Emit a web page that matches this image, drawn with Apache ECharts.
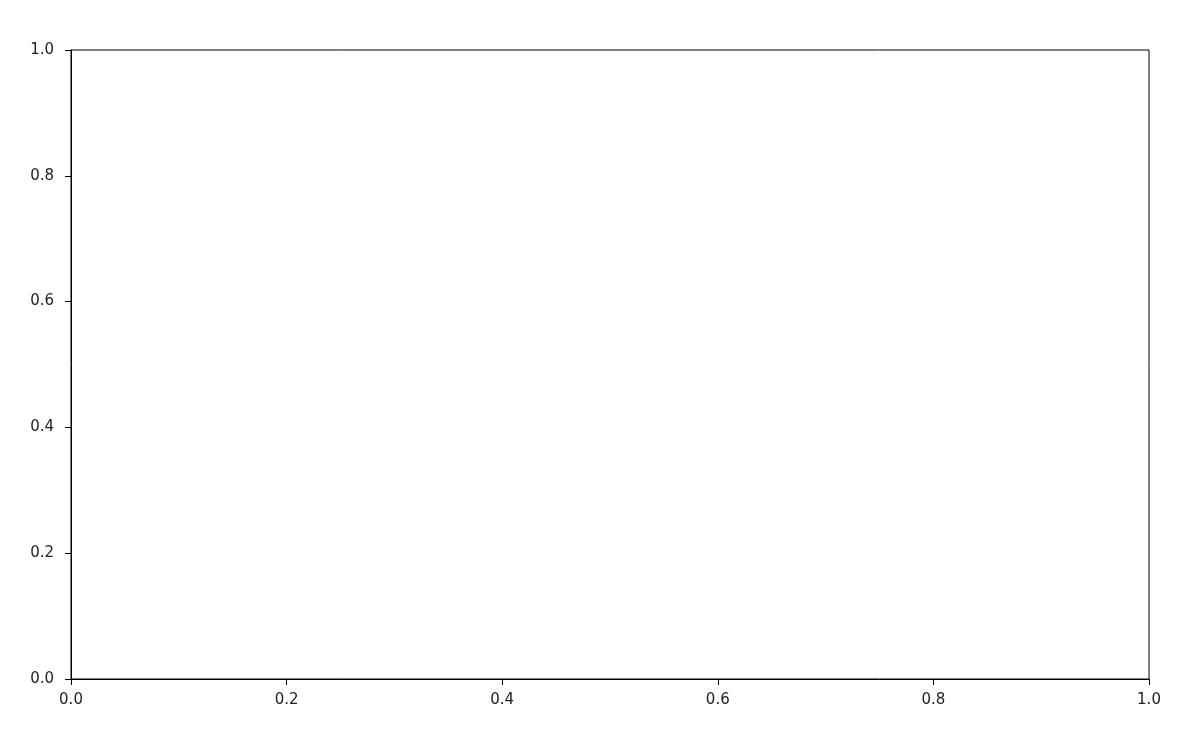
<!DOCTYPE html>
<html>
<head>
<meta charset="utf-8">
<script src="https://cdn.jsdelivr.net/npm/echarts@6/dist/echarts.min.js"></script>
<style>html,body{margin:0;padding:0;background:#fff}#c{width:1200px;height:746px}</style>
</head>
<body>
<div id="c"></div>
<script>
var xRange = [0, 1];
var yRange = [0, 1];
var tickStep = 0.2;
var seriesData = [];

var chart = echarts.init(document.getElementById('c'), null, {renderer: 'canvas'});
var axisCommon = {
  type: 'value',
  interval: tickStep,
  axisLine: {show: true, lineStyle: {color: '#000', width: 1}},
  axisTick: {show: true, length: 6, lineStyle: {color: '#000', width: 1}},
  splitLine: {show: false},
  axisLabel: {
    color: '#222', fontSize: 15, fontFamily: 'DejaVu Sans',
    formatter: function (v) { return v.toFixed(1); }
  }
};
chart.setOption({
  animation: false,
  backgroundColor: '#fff',
  grid: {left: 71, right: 51, top: 50, bottom: 67, show: true, borderColor: '#000', borderWidth: 1},
  xAxis: Object.assign({}, axisCommon, {min: xRange[0], max: xRange[1],
    axisLabel: Object.assign({}, axisCommon.axisLabel, {margin: 14})}),
  yAxis: Object.assign({}, axisCommon, {min: yRange[0], max: yRange[1],
    axisLabel: Object.assign({}, axisCommon.axisLabel, {margin: 17})}),
  series: [{type: 'scatter', data: seriesData}]
});
</script>
</body>
</html>
